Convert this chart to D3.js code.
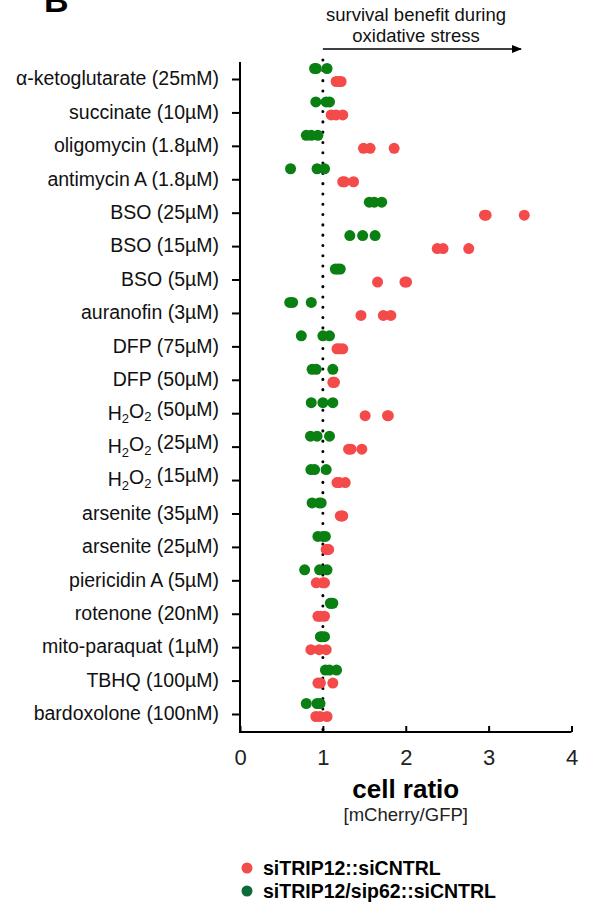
<!DOCTYPE html>
<html>
<head>
<meta charset="utf-8">
<script src="https://cdn.jsdelivr.net/npm/d3@7"></script>
<style>
  body { margin: 0; background: #fff; }
  svg { font-family: "Liberation Sans", Arial, sans-serif; }
</style>
</head>
<body>
<svg id="chart" width="590" height="906"></svg>
<script>
// conditions, top to bottom
var conditions = [
    "α-ketoglutarate (25mM)", "succinate (10µM)", "oligomycin (1.8µM)", "antimycin A (1.8µM)",
    "BSO (25µM)", "BSO (15µM)", "BSO (5µM)", "auranofin (3µM)", "DFP (75µM)", "DFP (50µM)",
    "H2O2 (50µM)", "H2O2 (25µM)", "H2O2 (15µM)", "arsenite (35µM)", "arsenite (25µM)",
    "piericidin A (5µM)", "rotenone (20nM)", "mito-paraquat (1µM)", "TBHQ (100µM)", "bardoxolone (100nM)"
]

// siTRIP12::siCNTRL replicates
var redValues = [
    [1.16, 1.19, 1.22], [1.10, 1.16, 1.24], [1.49, 1.57, 1.86], [1.24, 1.26, 1.37],
    [2.95, 2.97, 3.43], [2.38, 2.45, 2.76], [1.66, 1.99, 2.01], [1.46, 1.73, 1.82],
    [1.17, 1.20, 1.24], [1.12, 1.13, 1.14], [1.51, 1.78, 1.79], [1.31, 1.34, 1.47],
    [1.17, 1.20, 1.27], [1.21, 1.23, 1.24], [1.04, 1.06, 1.07], [0.92, 1.00, 1.02],
    [0.94, 0.97, 1.02], [0.855, 0.955, 1.04], [0.94, 0.97, 1.12], [0.915, 0.965, 1.05]
]

// siTRIP12/sip62::siCNTRL replicates
var greenValues = [
    [0.90, 0.92, 1.05], [0.915, 1.04, 1.08], [0.80, 0.86, 0.94], [0.61, 0.93, 1.02],
    [1.56, 1.62, 1.71], [1.325, 1.48, 1.63], [1.15, 1.18, 1.21], [0.60, 0.635, 0.86],
    [0.74, 1.00, 1.08], [0.87, 0.92, 1.12], [0.86, 1.00, 1.12], [0.85, 0.93, 1.08],
    [0.855, 0.90, 1.04], [0.87, 0.955, 0.98], [0.94, 1.00, 1.03], [0.78, 0.96, 1.05],
    [1.09, 1.10, 1.12], [0.97, 0.99, 1.02], [1.03, 1.08, 1.165], [0.80, 0.93, 0.965]
]

var xTicks = [0, 1, 2, 3, 4]

var legendItems = [
    {label: "siTRIP12::siCNTRL", color: "#f44b4b"},
    {label: "siTRIP12/sip62::siCNTRL", color: "#0b6b3a"}
]

var svg = d3.select("#chart")

var x = d3.scaleLinear().domain([0, 4]).range([240, 571.5])
var y = d3.scalePoint().domain(conditions).range([79, 714])

// panel letter, cropped at the top like the source
svg.append("text")
    .attr("x", 44).attr("y", 12)
    .style("font-size", "34px").style("font-weight", "bold")
    .text("B")

// annotation
svg.append("text").attr("x", 416).attr("y", 21).attr("text-anchor", "middle")
    .style("font-size", "18.5px").attr("fill", "#111").text("survival benefit during")
svg.append("text").attr("x", 416).attr("y", 42).attr("text-anchor", "middle")
    .style("font-size", "18.5px").attr("fill", "#111").text("oxidative stress")

svg.append("defs").append("marker")
    .attr("id", "arrow").attr("viewBox", "0 0 10 10")
    .attr("refX", 9).attr("refY", 5)
    .attr("markerWidth", 11).attr("markerHeight", 10)
    .attr("markerUnits", "userSpaceOnUse")
    .attr("orient", "auto")
    .append("path").attr("d", "M0,1L10,5L0,9Z").attr("fill", "#000")

svg.append("line")
    .attr("x1", x(1)).attr("x2", 521).attr("y1", 49).attr("y2", 49)
    .attr("stroke", "#000").attr("stroke-width", 1.5)
    .attr("marker-end", "url(#arrow)")

// dotted reference at 1
svg.append("line")
    .attr("x1", x(1)).attr("x2", x(1)).attr("y1", 60).attr("y2", 730)
    .attr("stroke", "#000").attr("stroke-width", 3)
    .attr("stroke-linecap", "round")
    .attr("stroke-dasharray", "0.1 10.2")

// x axis
var xAxis = svg.append("g")
    .attr("transform", "translate(0,732)")
    .call(d3.axisBottom(x).tickValues(xTicks).tickFormat(d3.format("d")).tickSize(7).tickSizeOuter(0))
xAxis.select(".domain").attr("stroke-width", 2).attr("d", "M" + x(0) + ",0H" + x(4))
xAxis.selectAll(".tick line").attr("stroke-width", 2).attr("y1", -6).attr("y2", 0)
xAxis.selectAll(".tick text")
    .attr("y", 17).attr("dy", "0.71em")
    .style("font-size", "22px").style("font-family", "Liberation Sans, Arial, sans-serif")
    .attr("fill", "#222")

// y axis
var yAxis = svg.append("g")
    .attr("transform", "translate(240,0)")
    .call(d3.axisLeft(y).tickSize(8).tickSizeOuter(0).tickPadding(12))
yAxis.select(".domain").attr("stroke-width", 2).attr("d", "M0,62V733")
yAxis.selectAll(".tick line").attr("stroke-width", 2)
yAxis.selectAll(".tick text").remove()

// category labels with H2O2 subscripts
yAxis.selectAll(".tick").each(function(d) {
    var t = d3.select(this).append("text")
        .attr("x", -21).attr("y", -1).attr("dy", "0.35em")
        .attr("text-anchor", "end")
        .attr("fill", "#111")
        .style("font-size", "19.5px")
        .style("font-family", "Liberation Sans, Arial, sans-serif")
    if (d.indexOf("H2O2") === 0) {
        t.append("tspan").text("H")
        t.append("tspan").attr("dy", "0.3em").style("font-size", "13px").text("2")
        t.append("tspan").attr("dy", "-0.3em").text("O")
        t.append("tspan").attr("dy", "0.3em").style("font-size", "13px").text("2")
        t.append("tspan").attr("dy", "-0.3em").text(d.slice(4))
    } else {
        t.text(d)
    }
})

// points
var points = []
conditions.forEach(function(c, i) {
    greenValues[i].forEach(function(v) { points.push({cond: c, value: v, group: "green"}) })
    redValues[i].forEach(function(v) { points.push({cond: c, value: v, group: "red"}) })
})

var dotColor = {green: "#0a7f12", red: "#f44a4a"}
var dotOffset = {green: -10.5, red: 2.5}

svg.append("g").selectAll("circle")
    .data(points)
    .enter()
    .append("circle")
    .attr("cx", function(d) { return x(d.value) })
    .attr("cy", function(d) { return y(d.cond) + dotOffset[d.group] })
    .attr("r", 5.5)
    .attr("fill", function(d) { return dotColor[d.group] })

// axis title
svg.append("text").attr("x", x(2)).attr("y", 798).attr("text-anchor", "middle")
    .style("font-size", "26px").style("font-weight", "bold").text("cell ratio")
svg.append("text").attr("x", x(2)).attr("y", 821).attr("text-anchor", "middle")
    .style("font-size", "18.5px").attr("fill", "#222").text("[mCherry/GFP]")

// legend
var legend = svg.append("g").selectAll("g")
    .data(legendItems)
    .enter()
    .append("g")
    .attr("transform", function(d, i) {
        return "translate(0," + (868 + i * 23) + ")"
    })
legend.append("circle").attr("cx", 247).attr("cy", 0).attr("r", 5.5).attr("fill", function(d) { return d.color })
legend.append("text").attr("x", 263).attr("y", 0).attr("dy", "0.35em")
    .style("font-size", "19.5px").style("font-weight", "bold")
    .text(function(d) { return d.label })
</script>
</body>
</html>
